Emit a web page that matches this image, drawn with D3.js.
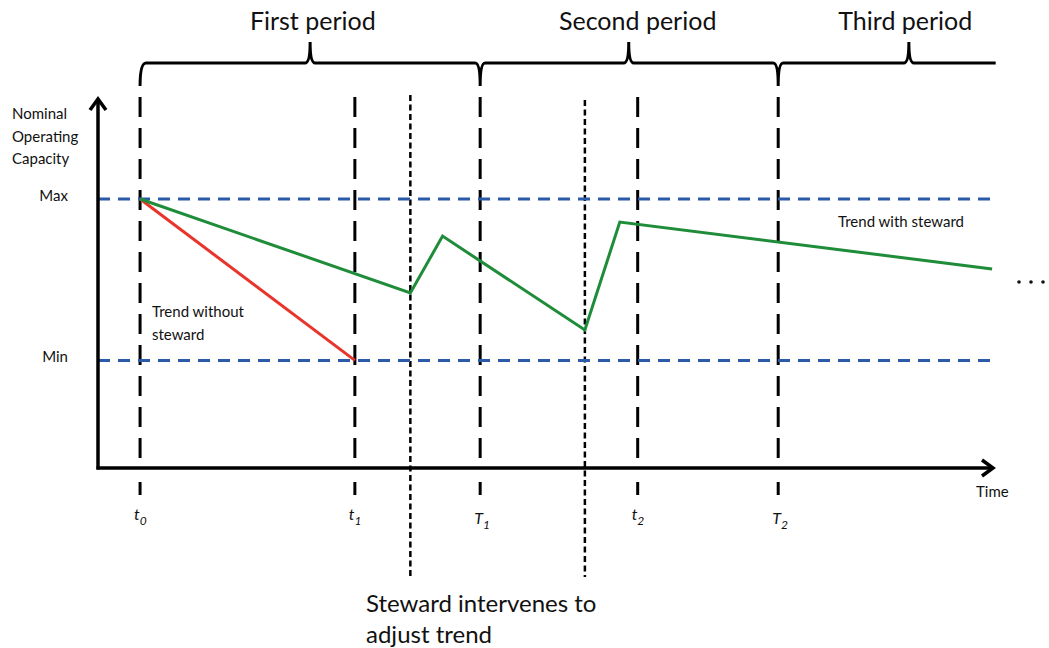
<!DOCTYPE html>
<html><head><meta charset="utf-8">
<script src="https://cdn.jsdelivr.net/npm/d3@7"></script>
<style>
html,body{margin:0;padding:0;background:#fff;}
text{font-family:Lato,"Open Sans",sans-serif;fill:#111;}
</style></head>
<body><svg id="c" width="1049" height="648"></svg>
<script>
// ---- data ----
const levels = [{name:"Max", v:100},{name:"Min", v:40}];
const timeMarks = [
  {base:"t", sub:"0", t:4.7},
  {base:"t", sub:"1", t:28.7},
  {base:"T", sub:"1", t:42.7},
  {base:"t", sub:"2", t:60.3},
  {base:"T", sub:"2", t:76.0}
];
const interventions = [34.9, 54.4];
const periods = ["First period","Second period","Third period"];
const periodBounds = [4.7, 42.7, 76.0, 100.3];
const periodCusps = [23.7, 59.3, 90.6];
const periodLabelT = [24.0, 60.3, 90.2];
const trendWithT = [4.7, 34.9, 38.5, 54.4, 58.3, 99.9];
const trendWithV = [100, 65.1, 86.2, 51.3, 91.4, 74.0];
const trendWithoutT = [4.7, 28.7];
const trendWithoutV = [100, 40];

// ---- scales ----
const svg = d3.select("#c");
const x = d3.scaleLinear().domain([0,100]).range([98,993]);
const y = d3.scaleLinear().domain([0,100]).range([468,199]);

// vertical long-dashed lines
timeMarks.forEach(m=>{
  svg.append("line").attr("x1",x(m.t)).attr("x2",x(m.t)).attr("y1",97).attr("y2",468)
    .attr("stroke","#000").attr("stroke-width",3).attr("stroke-dasharray","20,11");
  svg.append("line").attr("x1",x(m.t)).attr("x2",x(m.t)).attr("y1",482).attr("y2",495)
    .attr("stroke","#000").attr("stroke-width",3);
  const tx = svg.append("text").attr("x",x(m.t)-6).attr("y",m.base==="T"?524:520)
    .attr("font-size",16).attr("font-style","italic").attr("text-anchor","start");
  tx.append("tspan").text(m.base);
  tx.append("tspan").attr("dy",5).attr("font-size",12).text(m.sub);
});
// dotted intervention lines
interventions.forEach((t,i)=>{
  svg.append("line").attr("x1",x(t)).attr("x2",x(t)).attr("y1",i===0?95:100).attr("y2",577)
    .attr("stroke","#000").attr("stroke-width",2.5).attr("stroke-dasharray","6,3.5");
});

// level lines
levels.forEach(l=>{
  svg.append("line").attr("x1",98).attr("x2",993).attr("y1",y(l.v)).attr("y2",y(l.v))
    .attr("stroke","#2b5aa8").attr("stroke-width",3).attr("stroke-dasharray","12,8");
  svg.append("text").attr("x",68).attr("y",y(l.v)+2).attr("text-anchor","end")
    .attr("font-size",15).text(l.name);
});

// axes
svg.append("line").attr("x1",98).attr("x2",98).attr("y1",469.5).attr("y2",99)
  .attr("stroke","#000").attr("stroke-width",3.5);
svg.append("path").attr("d",`M90,110 L98,99 L106,110`).attr("fill","none")
  .attr("stroke","#000").attr("stroke-width",3.5);
svg.append("line").attr("x1",96.5).attr("x2",992).attr("y1",468).attr("y2",468)
  .attr("stroke","#000").attr("stroke-width",3.5);
svg.append("path").attr("d",`M982,460 L993,468 L982,476`).attr("fill","none")
  .attr("stroke","#000").attr("stroke-width",3.5);

// trends
const line = d3.line().x(d=>x(d[0])).y(d=>y(d[1]));
svg.append("path").datum(trendWithoutT.map((t,i)=>[t,trendWithoutV[i]]))
  .attr("d",line).attr("fill","none").attr("stroke","#e8342a").attr("stroke-width",3);
svg.append("path").datum(trendWithT.map((t,i)=>[t,trendWithV[i]]))
  .attr("d",line).attr("fill","none").attr("stroke","#1f8c3a").attr("stroke-width",3)
  .attr("stroke-linejoin","miter");

// braces
const by = 63, cusp = 42, hook = 86;
let d = `M${x(periodBounds[0])},${hook} Q${x(periodBounds[0])},${by} ${x(periodBounds[0])+6},${by}`;
for (let i=0;i<periods.length;i++){
  const b = x(periodBounds[i+1]);
  const m = x(periodCusps[i]);
  d += ` L${m-5},${by} Q${m},${by} ${m},${cusp} Q${m},${by} ${m+5},${by}`;
  if (i<2) d += ` L${b-5},${by} Q${b},${by} ${b},${hook} Q${b},${by} ${b+5},${by}`;
  else d += ` L${b},${by}`;
  svg.append("text").attr("x",x(periodLabelT[i])).attr("y",30).attr("text-anchor","middle")
    .attr("font-size",25).text(periods[i]);
}
svg.append("path").attr("d",d).attr("fill","none").attr("stroke","#000").attr("stroke-width",3);

// labels
const lab = (txt,xx,yy,fs,anchor)=>svg.append("text").attr("x",xx).attr("y",yy)
  .attr("font-size",fs).attr("text-anchor",anchor||"start").text(txt);
lab("Nominal",12,119,15); lab("Operating",12,142,15); lab("Capacity",12,164,15);
lab("Trend without",152,317,15); lab("steward",152,340,15);
lab("Trend with steward",838,227,15);
lab("Time",976,497,15);
lab("Steward intervenes to",366,612,24); lab("adjust trend",366,643,24);
[1019,1031,1043].forEach(cx=>svg.append("circle").attr("cx",cx).attr("cy",282).attr("r",1.8).attr("fill","#111"));
</script></body></html>
